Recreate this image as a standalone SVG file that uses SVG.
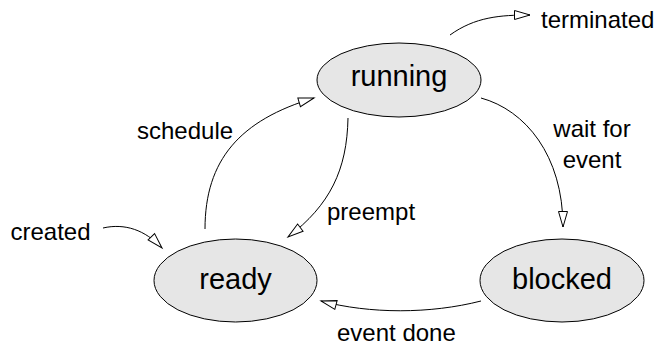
<svg xmlns="http://www.w3.org/2000/svg" width="658" height="349" viewBox="0 0 658 349">
<style>
.node{fill:#e6e6e6;stroke:#000;stroke-width:1}
.nt{font-family:"Liberation Sans",Arial,sans-serif;font-size:29px;text-anchor:middle;fill:#000}
.lb{font-family:"Liberation Sans",Arial,sans-serif;font-size:24px;fill:#000}
.edge{fill:none;stroke:#000;stroke-width:1;marker-end:url(#arr)}
</style>
<defs>
<marker id="arr" markerUnits="userSpaceOnUse" markerWidth="18" markerHeight="11" refX="16" refY="5" orient="auto" viewBox="0 0 18 11" overflow="visible">
<path d="M0.5,0.5 L16,5 L0.5,9.5 z" fill="#fff" stroke="#000" stroke-width="1"/>
</marker>
</defs>
<rect width="658" height="349" fill="#fff"/>
<g id="connectors">
<path class="edge" d="M450,35 C475,17 500,15 530,15"/>
<path class="edge" d="M205,229 C205,160 240,120 314,98"/>
<path class="edge" d="M348,118 C347,170 330,205 288,237"/>
<path class="edge" d="M103,228 C125,223 145,230 162,248"/>
<path class="edge" d="M481,98 C525,110 563,155 563,227"/>
<path class="edge" d="M481,301 C430,314 370,314 321,301"/>
</g>
<g id="running">
<ellipse class="node" cx="399" cy="80" rx="82" ry="37"/>
<text class="nt" x="399" y="86">running</text>
</g>
<g id="ready">
<ellipse class="node" cx="235.5" cy="280.5" rx="81.5" ry="41.5"/>
<text class="nt" x="235.5" y="289">ready</text>
</g>
<g id="blocked">
<ellipse class="node" cx="562" cy="280.5" rx="82" ry="41.5"/>
<text class="nt" x="562" y="289">blocked</text>
</g>
<g id="labels">
<text class="lb" x="541" y="28">terminated</text>
<text class="lb" x="137" y="139">schedule</text>
<text class="lb" x="10.5" y="240">created</text>
<text class="lb" x="327" y="220">preempt</text>
<text class="lb" x="592" y="137" text-anchor="middle">wait for</text>
<text class="lb" x="592" y="168" text-anchor="middle">event</text>
<text class="lb" x="337" y="341">event done</text>
</g>
</svg>
